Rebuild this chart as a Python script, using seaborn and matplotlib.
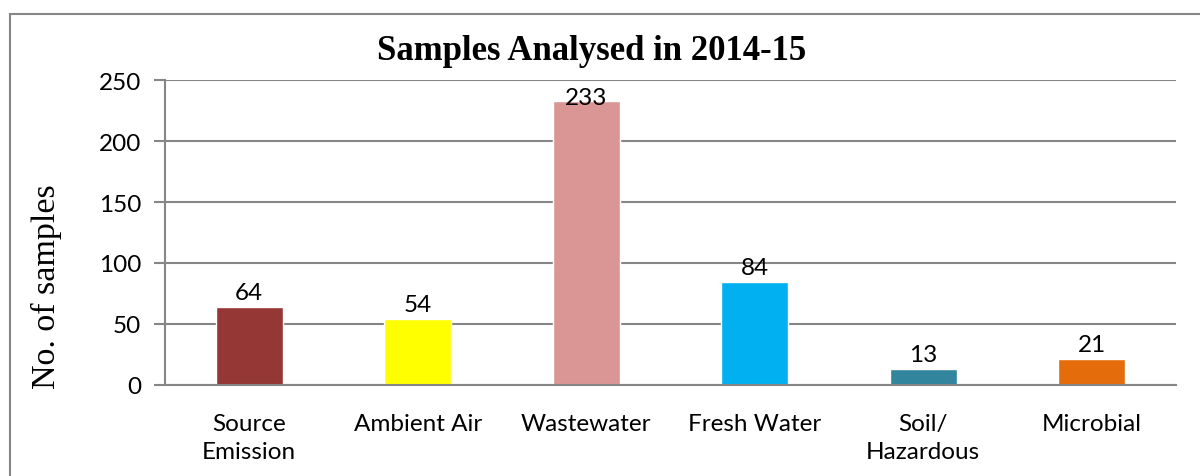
import numpy as np
import pandas as pd
import matplotlib.pyplot as plt
import seaborn as sns
from matplotlib.patches import Rectangle

categorias = ["Source\nEmission", "Ambient Air", "Wastewater", "Fresh Water",
              "Soil/\nHazardous", "Microbial"]
muestras = [64, 54, 233, 84, 13, 21]
colores = ["#953735", "#FFFF00", "#D99694", "#00B0F0", "#31859C", "#E46C0A"]

df = pd.DataFrame({"categoria": categorias, "muestras": muestras})

sns.set_style("white")
plt.rcParams["font.family"] = ["Lato", "DejaVu Sans"]
plt.rcParams["text.color"] = "black"
plt.rcParams["xtick.labelcolor"] = "black"
plt.rcParams["ytick.labelcolor"] = "black"

fig = plt.figure(figsize=(12, 4.77), dpi=100)
ax = fig.add_axes([0.1375, 0.191, 0.8425, 0.639])

sns.barplot(data=df, x="categoria", y="muestras", hue="categoria",
            palette=colores, width=0.4, saturation=1, legend=False, ax=ax)

gris = "#868686"
ax.set_ylim(0, 250)
ax.set_xlim(-0.5, 5.5)
ax.set_yticks(np.arange(0, 251, 50))
ax.yaxis.grid(True, color=gris, linewidth=1.5)
ax.set_axisbelow(True)
for lado in ["top", "right"]:
    ax.spines[lado].set_visible(False)
for lado in ["left", "bottom"]:
    ax.spines[lado].set_color(gris)
    ax.spines[lado].set_linewidth(1.5)

# ticks del eje x en los límites de categoría (estilo Excel)
ax.set_xticks(np.arange(-0.5, 6, 1), minor=True)
ax.tick_params(axis="x", which="major", length=0, pad=20, labelsize=17.5)
ax.tick_params(axis="x", which="minor", direction="out", length=8,
               width=1.5, color=gris)
ax.tick_params(axis="y", direction="out", length=8, width=1.5, color=gris,
               labelsize=17.5, left=True, pad=9)
for lbl in ax.get_xticklabels():
    lbl.set_linespacing(1.45)
ax.set_xlabel("")
ax.set_ylabel("")

for cont, valor in zip(ax.containers, muestras):
    # la etiqueta de la barra más alta queda dentro del área de trazado
    ax.bar_label(cont, fontsize=17.5, padding=-5 if valor > 200 else 3)

fig.text(0.493, 0.892, "Samples Analysed in 2014-15", ha="center", va="center",
         fontsize=25, fontweight="bold", family="Liberation Serif")
fig.text(0.039, 0.40, "No. of samples", rotation=90, ha="center", va="center",
         fontsize=24.5, family="Liberation Serif")

# marco del gráfico (recortado por el borde derecho e inferior)
fig.patches.append(Rectangle((10 / 1200, -0.2), 1.2, 1.2 - 15 / 477,
                             transform=fig.transFigure, fill=False,
                             edgecolor=gris, linewidth=1.5))

plt.savefig("out.png", dpi=100)
